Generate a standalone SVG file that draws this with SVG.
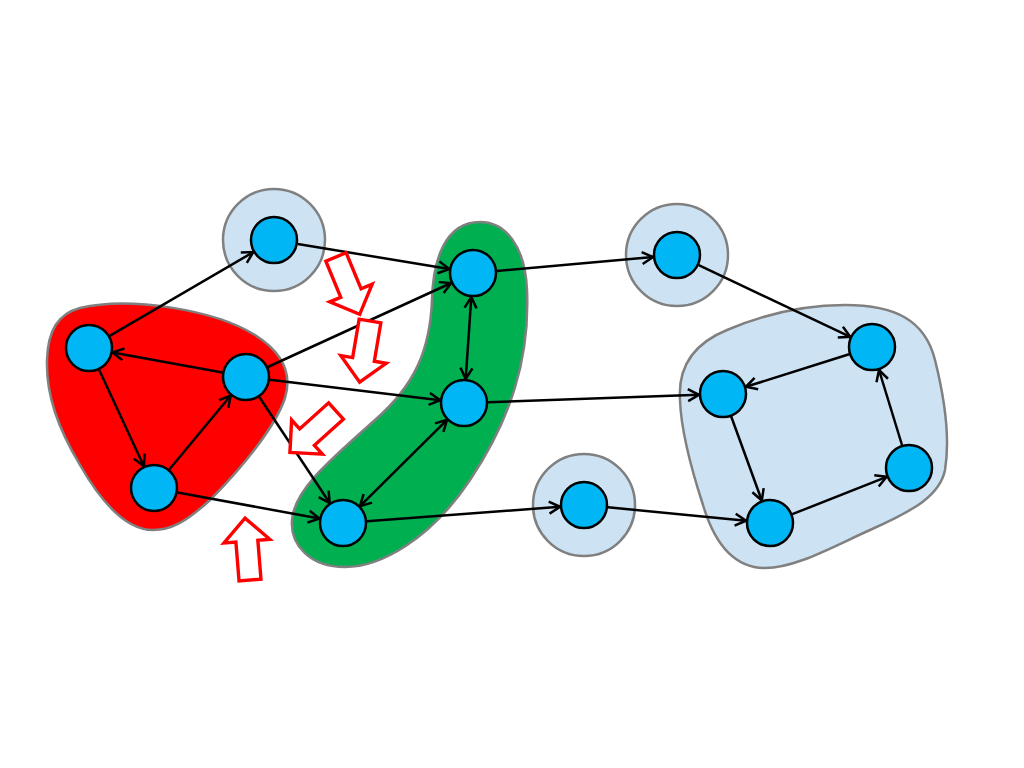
<svg xmlns="http://www.w3.org/2000/svg" width="1024" height="768" viewBox="0 0 1024 768">
<style>
.grp{stroke:#808080;stroke-width:2.5}
.lb{fill:#cde3f3}
.node{fill:#00b6f4;stroke:#000;stroke-width:2.5}
.edge{stroke:#000;stroke-width:2.5;fill:none;marker-end:url(#ah)}
.both{marker-start:url(#ah)}
.hollow{fill:#fff;stroke:#ff0000;stroke-width:3.4;stroke-linejoin:miter}
</style>
<defs>
<marker id="ah" markerUnits="userSpaceOnUse" markerWidth="16" markerHeight="16" refX="12.5" refY="7" orient="auto-start-reverse" viewBox="0 0 16 14">
<path d="M1.5,1 L12.5,7 L1.5,13" fill="none" stroke="#000" stroke-width="2.5"/>
</marker>
<polygon id="harrow" points="0,-11 39,-11 39,-23 62,0 39,23 39,11 0,11"/>
</defs>
<rect width="1024" height="768" fill="#fff"/>
<g id="groups">
<path id="red-group" class="grp" fill="#ff0000" d="M80 308 C130 296 215 310 255 335 C285 354 292 375 285 398 C275 428 240 470 210 500 C185 523 170 530 153 530 C125 530 100 500 80 465 C58 428 46 395 47 360 C48 330 58 314 80 308 Z"/>
<path id="green-group" class="grp" fill="#00b050" d="M480 222 C505 222 525 245 527 290 C530 360 510 420 470 480 C430 540 380 567 345 567 C310 567 290 545 292 520 C294 490 330 460 375 420 C415 385 430 350 432 300 C433 260 445 222 480 222 Z"/>
<path id="blue-group" class="grp lb" d="M680 400 C678 370 690 345 727 330 C760 316 800 305 845 305 C895 305 925 320 935 360 C945 400 950 440 945 470 C940 495 915 510 870 530 C830 548 795 568 765 568 C735 568 715 545 703 505 C690 465 681 430 680 400 Z"/>
<circle id="bubble-a" class="grp lb" cx="274" cy="240" r="51"/>
<circle id="bubble-h" class="grp lb" cx="677" cy="255" r="51"/>
<circle id="bubble-i" class="grp lb" cx="584" cy="505" r="51"/>
</g>
<g id="connectors">
<line class="edge" x1="109.7" y1="335.9" x2="253.3" y2="252.1"/>
<line class="edge" x1="297.7" y1="243.9" x2="449.3" y2="269.1"/>
<line class="edge" x1="222.4" y1="372.6" x2="112.6" y2="352.4"/>
<line class="edge" x1="99.1" y1="369.8" x2="143.9" y2="466.2"/>
<line class="edge" x1="169.3" y1="469.5" x2="230.7" y2="395.5"/>
<line class="edge" x1="267.8" y1="367" x2="451.2" y2="283"/>
<line class="edge" x1="269.8" y1="379.8" x2="440.2" y2="400.2"/>
<line class="edge" x1="259.3" y1="397" x2="329.7" y2="503"/>
<line class="edge" x1="177.6" y1="492.4" x2="319.4" y2="518.6"/>
<line class="edge both" x1="471.3" y1="297" x2="465.7" y2="379"/>
<line class="edge both" x1="447" y1="419.9" x2="360" y2="506.1"/>
<line class="edge" x1="496.9" y1="270.9" x2="653.1" y2="257.1"/>
<line class="edge" x1="698.7" y1="265.2" x2="850.3" y2="336.8"/>
<line class="edge" x1="488" y1="402.2" x2="699" y2="394.8"/>
<line class="edge" x1="366.9" y1="521.2" x2="560.1" y2="506.8"/>
<line class="edge" x1="607.9" y1="507.3" x2="746.1" y2="520.7"/>
<line class="edge" x1="849.1" y1="354.2" x2="745.9" y2="386.8"/>
<line class="edge" x1="731.2" y1="416.5" x2="761.8" y2="500.5"/>
<line class="edge" x1="792.3" y1="514.2" x2="886.7" y2="476.8"/>
<line class="edge" x1="902" y1="445" x2="879" y2="370"/>
</g>
<g id="hollow-arrows">
<use href="#harrow" class="hollow" transform="translate(336,257) rotate(67.5)"/>
<use href="#harrow" class="hollow" transform="translate(370,321) rotate(99.6)"/>
<use href="#harrow" class="hollow" transform="translate(336,411) rotate(138)"/>
<use href="#harrow" class="hollow" transform="translate(250,580) rotate(-94.6)"/>
</g>
<g id="nodes">
<circle id="node-a" class="node" cx="274" cy="240" r="23"/>
<circle id="node-b" class="node" cx="89" cy="348" r="23"/>
<circle id="node-c" class="node" cx="246" cy="377" r="23"/>
<circle id="node-d" class="node" cx="154" cy="488" r="23"/>
<circle id="node-e" class="node" cx="473" cy="273" r="23"/>
<circle id="node-f" class="node" cx="464" cy="403" r="23"/>
<circle id="node-g" class="node" cx="343" cy="523" r="23"/>
<circle id="node-h" class="node" cx="677" cy="255" r="23"/>
<circle id="node-i" class="node" cx="584" cy="505" r="23"/>
<circle id="node-j" class="node" cx="872" cy="347" r="23"/>
<circle id="node-k" class="node" cx="723" cy="394" r="23"/>
<circle id="node-l" class="node" cx="909" cy="468" r="23"/>
<circle id="node-m" class="node" cx="770" cy="523" r="23"/>
</g>
</svg>
